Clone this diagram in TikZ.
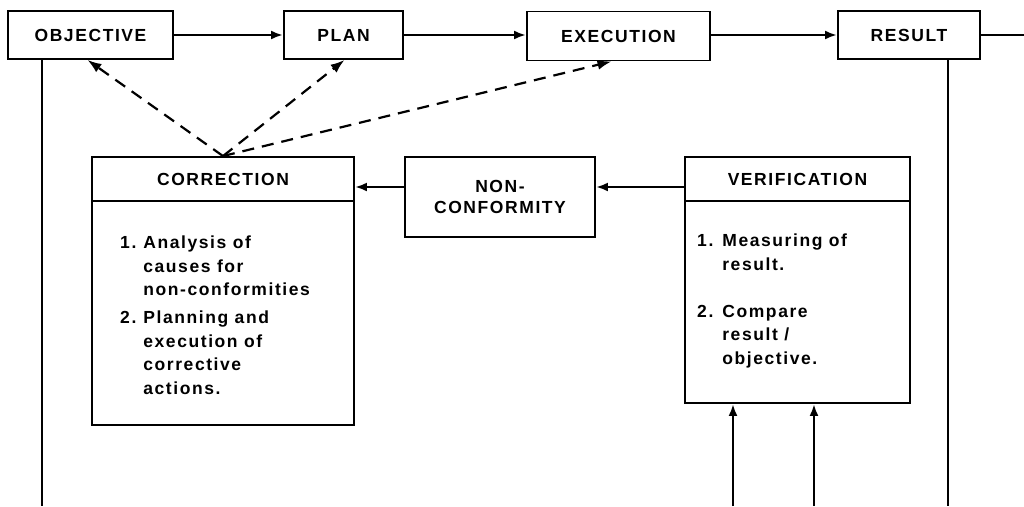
\documentclass[tikz,border=0pt]{standalone}
\usepackage{fontspec}
\setmainfont[LetterSpace=9]{Liberation Sans}
\usetikzlibrary{arrows.meta}

\begin{document}
\begin{tikzpicture}[x=1pt,y=-1pt,
  font=\bfseries\fontsize{17.5}{23.5}\selectfont,
  box/.style={draw, line width=1.9pt, inner sep=0pt, align=center},
  link/.style={line width=2.5pt},
  arr/.style={link, -{Latex[length=12pt,width=9pt]}},
  dasharr/.style={line width=2.2pt, dash pattern=on 12pt off 8pt,
    -{Latex[length=14pt,width=10pt]}},
  body/.style={anchor=north west, inner sep=0pt, align=left}]
\useasboundingbox[fill=white] (0,0) rectangle (1024,506);

% top row of the cycle
\node[box, minimum width=165pt, minimum height=48pt] (obj)  at (90.5,35) {OBJECTIVE};
\node[box, minimum width=119pt, minimum height=48pt] (plan) at (343.5,35) {PLAN};
\node[box, minimum width=183pt, minimum height=49pt] (exec) at (618.5,36) {EXECUTION};
\node[box, minimum width=142pt, minimum height=48pt] (res)  at (909,35) {RESULT};

% correction block with header and list
\node[box, minimum width=262pt, minimum height=268pt] (corr) at (223,291) {};
\node (corrhead) at ([yshift=-23pt]corr.north) {CORRECTION};
\draw[line width=1.9pt] ([yshift=-45pt]corr.north west) -- ([yshift=-45pt]corr.north east);
\node[body] (corrtext) at (120,232) {%
  \begin{tabular}{@{}l@{\hspace{7pt}}l@{}}
  1. & Analysis of\\
     & causes for\\
     & non-conformities\\[4.5pt]
  2. & Planning and\\
     & execution of\\
     & corrective\\
     & actions.
  \end{tabular}};

% non-conformity
\node[box, minimum width=190pt, minimum height=80pt] (nc) at (500,197) {NON-\\[-2pt]CONFORMITY};

% verification block with header and list
\node[box, minimum width=225pt, minimum height=246pt] (ver) at (797.5,280) {};
\node (verhead) at ([yshift=-23pt]ver.north) {VERIFICATION};
\draw[line width=1.9pt] ([yshift=-45pt]ver.north west) -- ([yshift=-45pt]ver.north east);
\node[body] (vertext) at (697,230) {%
  \begin{tabular}{@{}l@{\hspace{9pt}}l@{}}
  1. & Measuring of\\
     & result.\\[23.5pt]
  2. & Compare\\
     & result /\\
     & objective.
  \end{tabular}};

% free ends at the page border
\coordinate (resout) at (1024,35);
\coordinate (objdown) at (42,506);
\coordinate (resdown) at (948,506);
\coordinate (meas1) at (733,506);
\coordinate (meas2) at (814,506);

% main flow
\draw[arr] (obj) -- (plan);
\draw[arr] (plan.east) -- (plan.east -| exec.west);
\draw[arr] (exec.east |- res) -- (res);
\draw[link] (res) -- (resout);
\draw[link] (obj.south -| objdown) -- (objdown);
\draw[link] (res.south -| resdown) -- (resdown);

% verification loop
\draw[arr] (meas1) -- (meas1 |- ver.south);
\draw[arr] (meas2) -- (meas2 |- ver.south);
\draw[arr] ([yshift=10pt]nc.east -| ver.west) -- ([yshift=10pt]nc.east);
\draw[arr] ([yshift=10pt]nc.west) -- ([yshift=10pt]nc.west -| corr.east);

% corrective feedback
\draw[dasharr] (corr.north) -- ([xshift=-3pt]obj.south);
\draw[dasharr] (corr.north) -- ([xshift=1pt]plan.south);
\draw[dasharr] (corr.north) -- ([xshift=-7pt]exec.south);
\end{tikzpicture}
\end{document}
